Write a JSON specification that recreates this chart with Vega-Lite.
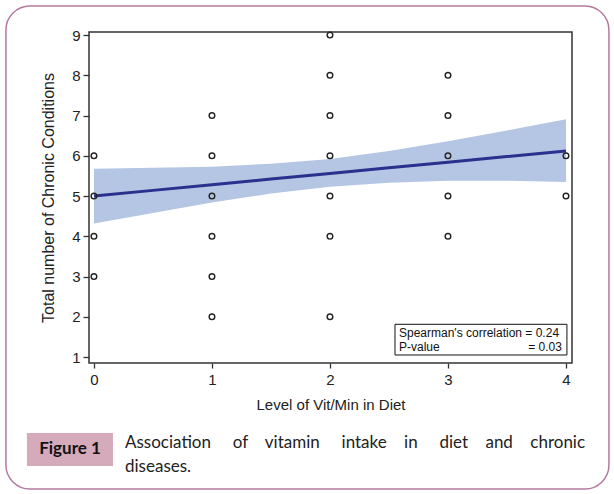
{
  "$schema": "https://vega.github.io/schema/vega-lite/v6.json",
  "width": 483,
  "height": 331,
  "autosize": {"type": "none"},
  "padding": {"left": 89, "top": 32, "right": 42, "bottom": 131},
  "background": "white",
  "config": {
    "view": {"stroke": "#333333", "strokeWidth": 1.5},
    "font": "Liberation Sans",
    "axis": {"grid": false, "domain": false, "tickWidth": 1.3, "tickColor": "#333333", "labelFont": "Liberation Sans", "labelFontSize": 15, "labelColor": "#222222",
      "titleFont": "Liberation Sans", "titleFontSize": 15, "titleFontWeight": "normal", "titleColor": "#222222"}
  },
  "datasets": {
    "points": [
      {"level": 0, "conditions": 6}, {"level": 0, "conditions": 5}, {"level": 0, "conditions": 4}, {"level": 0, "conditions": 3},
      {"level": 1, "conditions": 7}, {"level": 1, "conditions": 6}, {"level": 1, "conditions": 5}, {"level": 1, "conditions": 4}, {"level": 1, "conditions": 3}, {"level": 1, "conditions": 2},
      {"level": 2, "conditions": 9}, {"level": 2, "conditions": 8}, {"level": 2, "conditions": 7}, {"level": 2, "conditions": 6}, {"level": 2, "conditions": 5}, {"level": 2, "conditions": 4}, {"level": 2, "conditions": 2},
      {"level": 3, "conditions": 8}, {"level": 3, "conditions": 7}, {"level": 3, "conditions": 6}, {"level": 3, "conditions": 5}, {"level": 3, "conditions": 4},
      {"level": 4, "conditions": 6}, {"level": 4, "conditions": 5}
    ],
    "fit": [
      {"level": 0, "fit": 5.0, "lo": 4.32, "hi": 5.68},
      {"level": 0.5, "fit": 5.14, "lo": 4.58, "hi": 5.70},
      {"level": 1, "fit": 5.28, "lo": 4.84, "hi": 5.73},
      {"level": 1.5, "fit": 5.42, "lo": 5.06, "hi": 5.80},
      {"level": 2, "fit": 5.56, "lo": 5.23, "hi": 5.92},
      {"level": 2.5, "fit": 5.70, "lo": 5.33, "hi": 6.12},
      {"level": 3, "fit": 5.84, "lo": 5.38, "hi": 6.36},
      {"level": 3.5, "fit": 5.98, "lo": 5.38, "hi": 6.63},
      {"level": 4, "fit": 6.12, "lo": 5.35, "hi": 6.91}
    ],
    "one": [{}]
  },
  "layer": [
    {
      "data": {"name": "fit"},
      "mark": {"type": "area", "color": "#b4c6e4", "opacity": 1},
      "encoding": {
        "x": {"field": "level", "type": "quantitative", "scale": {"domain": [-0.042, 4.051], "nice": false, "zero": false},
          "axis": {"values": [0, 1, 2, 3, 4], "format": "d", "title": "Level of Vit/Min in Diet", "tickSize": 5, "labelPadding": 4, "titlePadding": 10}},
        "y": {"field": "lo", "type": "quantitative", "scale": {"domain": [0.851, 9.075], "nice": false, "zero": false},
          "axis": {"values": [1, 2, 3, 4, 5, 6, 7, 8, 9], "format": "d", "title": "Total number of Chronic Conditions", "tickSize": 6, "labelPadding": 3, "titleFontSize": 16, "titlePadding": 15}},
        "y2": {"field": "hi"}
      }
    },
    {
      "data": {"name": "fit"},
      "mark": {"type": "line", "color": "#2b2f8e", "strokeWidth": 3},
      "encoding": {
        "x": {"field": "level", "type": "quantitative", "scale": {"domain": [-0.042, 4.051], "nice": false, "zero": false}},
        "y": {"field": "fit", "type": "quantitative", "scale": {"domain": [0.851, 9.075], "nice": false, "zero": false}}
      }
    },
    {
      "data": {"name": "points"},
      "mark": {"type": "point", "shape": "circle", "filled": false, "color": "#222222", "size": 32, "strokeWidth": 1.4, "opacity": 1},
      "encoding": {
        "x": {"field": "level", "type": "quantitative", "scale": {"domain": [-0.042, 4.051], "nice": false, "zero": false}},
        "y": {"field": "conditions", "type": "quantitative", "scale": {"domain": [0.851, 9.075], "nice": false, "zero": false}}
      }
    },
    {
      "data": {"name": "one"},
      "mark": {"type": "rect", "fill": "white", "stroke": "#111111", "strokeWidth": 1},
      "encoding": {
        "x": {"datum": 2.551, "type": "quantitative", "scale": {"domain": [-0.042, 4.051], "nice": false, "zero": false}},
        "x2": {"datum": 4.008},
        "y": {"datum": 1.813, "type": "quantitative", "scale": {"domain": [0.851, 9.075], "nice": false, "zero": false}},
        "y2": {"datum": 1.05}
      }
    },
    {
      "data": {"name": "one"},
      "mark": {"type": "text", "text": "Spearman's correlation = 0.24", "align": "left", "baseline": "middle", "font": "Liberation Sans", "fontSize": 12, "color": "#111111"},
      "encoding": {
        "x": {"datum": 2.585, "type": "quantitative", "scale": {"domain": [-0.042, 4.051], "nice": false, "zero": false}},
        "y": {"datum": 1.596, "type": "quantitative", "scale": {"domain": [0.851, 9.075], "nice": false, "zero": false}}
      }
    },
    {
      "data": {"name": "one"},
      "mark": {"type": "text", "text": "P-value", "align": "left", "baseline": "middle", "font": "Liberation Sans", "fontSize": 12, "color": "#111111"},
      "encoding": {
        "x": {"datum": 2.585, "type": "quantitative", "scale": {"domain": [-0.042, 4.051], "nice": false, "zero": false}},
        "y": {"datum": 1.256, "type": "quantitative", "scale": {"domain": [0.851, 9.075], "nice": false, "zero": false}}
      }
    },
    {
      "data": {"name": "one"},
      "mark": {"type": "text", "text": "= 0.03", "align": "right", "baseline": "middle", "font": "Liberation Sans", "fontSize": 12, "color": "#111111"},
      "encoding": {
        "x": {"datum": 3.966, "type": "quantitative", "scale": {"domain": [-0.042, 4.051], "nice": false, "zero": false}},
        "y": {"datum": 1.256, "type": "quantitative", "scale": {"domain": [0.851, 9.075], "nice": false, "zero": false}}
      }
    },
    {
      "data": {"name": "one"},
      "mark": {"type": "rect", "fillOpacity": 0, "stroke": "#b5799f", "strokeWidth": 1.5, "cornerRadius": 24},
      "encoding": {
        "x": {"datum": -0.746, "type": "quantitative", "scale": {"domain": [-0.042, 4.051], "nice": false, "zero": false}},
        "x2": {"datum": 4.364},
        "y": {"datum": 9.72, "type": "quantitative", "scale": {"domain": [0.851, 9.075], "nice": false, "zero": false}},
        "y2": {"datum": -2.279}
      }
    },
    {
      "data": {"name": "one"},
      "mark": {"type": "rect", "fill": "#d5aabb"},
      "encoding": {
        "x": {"datum": -0.568, "type": "quantitative", "scale": {"domain": [-0.042, 4.051], "nice": false, "zero": false}},
        "x2": {"datum": 0.161},
        "y": {"datum": -0.888, "type": "quantitative", "scale": {"domain": [0.851, 9.075], "nice": false, "zero": false}},
        "y2": {"datum": -1.708}
      }
    },
    {
      "data": {"name": "one"},
      "mark": {"type": "text", "text": "Figure 1", "align": "center", "baseline": "middle", "font": "Lato", "fontWeight": "bold", "fontSize": 17, "color": "#111111"},
      "encoding": {
        "x": {"datum": -0.203, "type": "quantitative", "scale": {"domain": [-0.042, 4.051], "nice": false, "zero": false}},
        "y": {"datum": -1.286, "type": "quantitative", "scale": {"domain": [0.851, 9.075], "nice": false, "zero": false}}
      }
    },
    {
      "data": {"name": "one"},
      "mark": {"type": "text", "text": "Association\u00a0\u00a0\u00a0\u00a0\u00a0of\u00a0\u00a0\u00a0\u00a0vitamin\u00a0\u00a0\u00a0\u00a0\u00a0intake\u00a0\u00a0\u00a0\u00a0in\u00a0\u00a0\u00a0\u00a0\u00a0diet\u00a0\u00a0\u00a0\u00a0and\u00a0\u00a0\u00a0\u00a0chronic", "align": "left", "baseline": "middle", "font": "Lato", "fontSize": 17, "color": "#222222"},
      "encoding": {
        "x": {"datum": 0.263, "type": "quantitative", "scale": {"domain": [-0.042, 4.051], "nice": false, "zero": false}},
        "y": {"datum": -1.137, "type": "quantitative", "scale": {"domain": [0.851, 9.075], "nice": false, "zero": false}}
      }
    },
    {
      "data": {"name": "one"},
      "mark": {"type": "text", "text": "diseases.", "align": "left", "baseline": "middle", "font": "Lato", "fontSize": 17, "color": "#222222"},
      "encoding": {
        "x": {"datum": 0.263, "type": "quantitative", "scale": {"domain": [-0.042, 4.051], "nice": false, "zero": false}},
        "y": {"datum": -1.733, "type": "quantitative", "scale": {"domain": [0.851, 9.075], "nice": false, "zero": false}}
      }
    }
  ]
}
